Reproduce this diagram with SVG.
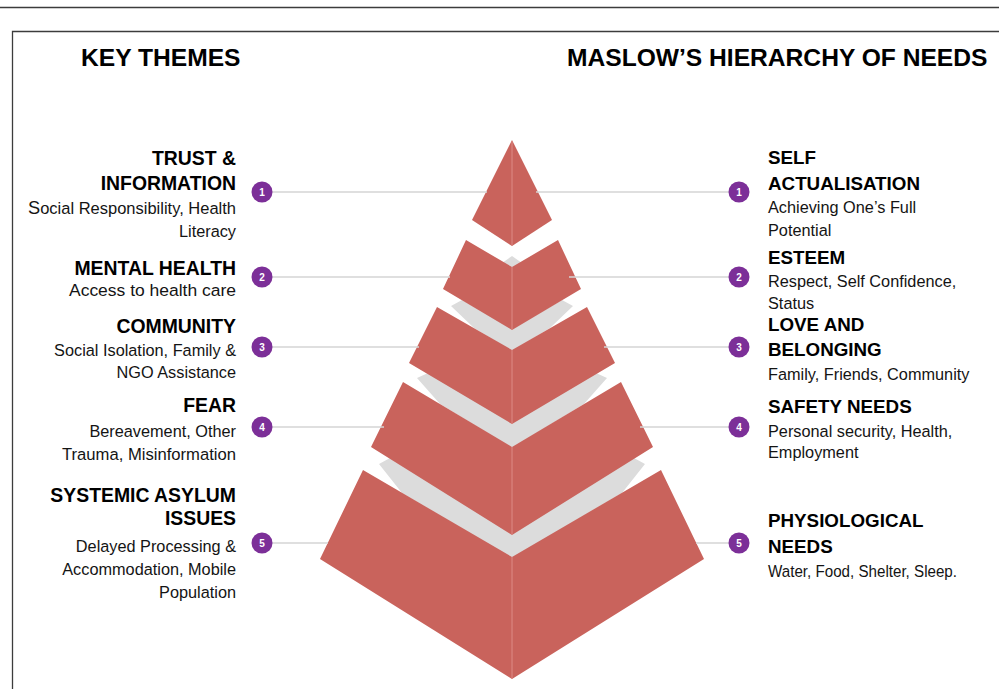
<svg xmlns="http://www.w3.org/2000/svg" width="999" height="689" viewBox="0 0 999 689">
  <style>
    text { font-family: "Liberation Sans", Arial, sans-serif; fill: #141414; }
    .title { font-size: 24.6px; font-weight: bold; fill: #000; }
    .head { font-size: 18.8px; font-weight: bold; fill: #000; }
    .left.head { font-size: 19.4px; }
    .body { font-size: 16.3px; }
    .left { text-anchor: end; }
    .face { fill: #c9635c; }
    .top { fill: #dcdcdc; }
    .seam { stroke: #dd8b85; stroke-width: 1; }
    .link { stroke: #d5d5d5; stroke-width: 1.5; fill: none; }
    .badge { fill: #7c2f98; }
    .num { font-size: 10px; font-weight: bold; fill: #fff; text-anchor: middle; }
  </style>

  <rect width="999" height="689" fill="#fff"/>

  <!-- page rule and frame -->
  <path d="M0 7.5 H999" stroke="#3c3c3c" stroke-width="1.3" fill="none"/>
  <path d="M12.5 689 V31.5 H999" stroke="#3c3c3c" stroke-width="1.3" fill="none"/>

  <!-- headings -->
  <text class="title" x="81" y="66">KEY THEMES</text>
  <text class="title" x="567" y="66">MASLOW’S HIERARCHY OF NEEDS</text>

  <!-- pyramid, drawn from the base upward so each tier hides the back of the one below -->
  <g id="pyramid">
    <g id="tier-5">
      <polygon class="top" points="390,458 512,534 634,458 645,464 622,493 512,558 402,493 379,464"/>
      <polygon class="face" points="363,470 512,557 661,470 704,559 512,679 320,559"/>
      <line class="seam" x1="512" y1="557" x2="512" y2="679"/>
    </g>
    <g id="tier-4">
      <polygon class="top" points="428,373 512,423 596,373 607,378 584,404 512,448 440,404 417,378"/>
      <polygon class="face" points="403,382 512,447 621,382 653,447 512,535 371,447"/>
      <line class="seam" x1="512" y1="447" x2="512" y2="535"/>
    </g>
    <g id="tier-3">
      <polygon class="top" points="462,300 512,329 562,300 573,306 550,328 512,351 474,328 451,306"/>
      <polygon class="face" points="437,307 512,350 587,307 615,363 512,424 409,363"/>
      <line class="seam" x1="512" y1="350" x2="512" y2="424"/>
    </g>
    <g id="tier-2">
      <polygon class="top" points="502,263 512,256 522,263 512,268"/>
      <polygon class="face" points="466,240 512,267 558,240 581,289 512,330 443,289"/>
      <line class="seam" x1="512" y1="267" x2="512" y2="330"/>
    </g>
    <g id="tier-1">
      <polygon class="face" points="512,140 552,220 512,246 472,220"/>
      <line class="seam" x1="512" y1="141" x2="512" y2="246"/>
    </g>
  </g>

  <!-- leader lines between the badges and the tiers -->
  <g id="connectors">
    <path class="link" d="M272 192 H487 M536 192 H729"/>
    <path class="link" d="M272 277 H450 M569 277 H729"/>
    <path class="link" d="M272 347 H419 M604 347 H729"/>
    <path class="link" d="M272 427 H384 M640 427 H729"/>
    <path class="link" d="M272 543 H328 M696 543 H729"/>
  </g>

  <!-- key themes (left column) -->
  <g id="theme-trust">
    <text class="head left" x="236" y="165">TRUST &amp;</text>
    <text class="head left" x="236" y="190">INFORMATION</text>
    <text class="body left" x="236" y="214" textLength="208" lengthAdjust="spacingAndGlyphs"><tspan font-size="18px">S</tspan>ocial Responsibility, Health</text>
    <text class="body left" x="236" y="237">Literacy</text>
    <circle class="badge" cx="262" cy="192" r="10.5"/>
    <text class="num" x="262" y="195.5">1</text>
  </g>
  <g id="theme-mental-health">
    <text class="head left" x="236" y="275">MENTAL HEALTH</text>
    <text class="body left" x="236" y="296" font-size="17.5px" fill="#000" textLength="167" lengthAdjust="spacingAndGlyphs">Access to health care</text>
    <circle class="badge" cx="262" cy="277" r="10.5"/>
    <text class="num" x="262" y="280.5">2</text>
  </g>
  <g id="theme-community">
    <text class="head left" x="236" y="333">COMMUNITY</text>
    <text class="body left" x="236" y="356">Social Isolation, Family &amp;</text>
    <text class="body left" x="236" y="378">NGO Assistance</text>
    <circle class="badge" cx="262" cy="347" r="10.5"/>
    <text class="num" x="262" y="350.5">3</text>
  </g>
  <g id="theme-fear">
    <text class="head left" x="236" y="412">FEAR</text>
    <text class="body left" x="236" y="437">Bereavement, Other</text>
    <text class="body left" x="236" y="460" textLength="174" lengthAdjust="spacingAndGlyphs">Trauma, Misinformation</text>
    <circle class="badge" cx="262" cy="427" r="10.5"/>
    <text class="num" x="262" y="430.5">4</text>
  </g>
  <g id="theme-asylum">
    <text class="head left" x="236" y="502">SYSTEMIC ASYLUM</text>
    <text class="head left" x="236" y="525">ISSUES</text>
    <text class="body left" x="236" y="552">Delayed Processing &amp;</text>
    <text class="body left" x="236" y="575">Accommodation, Mobile</text>
    <text class="body left" x="236" y="598">Population</text>
    <circle class="badge" cx="262" cy="543" r="10.5"/>
    <text class="num" x="262" y="546.5">5</text>
  </g>

  <!-- hierarchy of needs (right column) -->
  <g id="need-self-actualisation">
    <circle class="badge" cx="739" cy="192" r="10.5"/>
    <text class="num" x="739" y="195.5">1</text>
    <text class="head" x="768" y="164">SELF</text>
    <text class="head" x="768" y="190">ACTUALISATION</text>
    <text class="body" x="768" y="213">Achieving One’s Full</text>
    <text class="body" x="768" y="236">Potential</text>
  </g>
  <g id="need-esteem">
    <circle class="badge" cx="739" cy="277" r="10.5"/>
    <text class="num" x="739" y="280.5">2</text>
    <text class="head" x="768" y="264">ESTEEM</text>
    <text class="body" x="768" y="287">Respect, Self Confidence,</text>
    <text class="body" x="768" y="309">Status</text>
  </g>
  <g id="need-love-belonging">
    <circle class="badge" cx="739" cy="347" r="10.5"/>
    <text class="num" x="739" y="350.5">3</text>
    <text class="head" x="768" y="331">LOVE AND</text>
    <text class="head" x="768" y="356">BELONGING</text>
    <text class="body" x="768" y="380">Family, Friends, Community</text>
  </g>
  <g id="need-safety">
    <circle class="badge" cx="739" cy="427" r="10.5"/>
    <text class="num" x="739" y="430.5">4</text>
    <text class="head" x="768" y="413">SAFETY NEEDS</text>
    <text class="body" x="768" y="437" font-size="15.6px">Personal security, Health,</text>
    <text class="body" x="768" y="458" font-size="15.6px">Employment</text>
  </g>
  <g id="need-physiological">
    <circle class="badge" cx="739" cy="543" r="10.5"/>
    <text class="num" x="739" y="546.5">5</text>
    <text class="head" x="768" y="527">PHYSIOLOGICAL</text>
    <text class="head" x="768" y="553">NEEDS</text>
    <text class="body" x="768" y="577" font-size="14.6px" textLength="189" lengthAdjust="spacingAndGlyphs">Water, Food, Shelter, Sleep.</text>
  </g>
</svg>
